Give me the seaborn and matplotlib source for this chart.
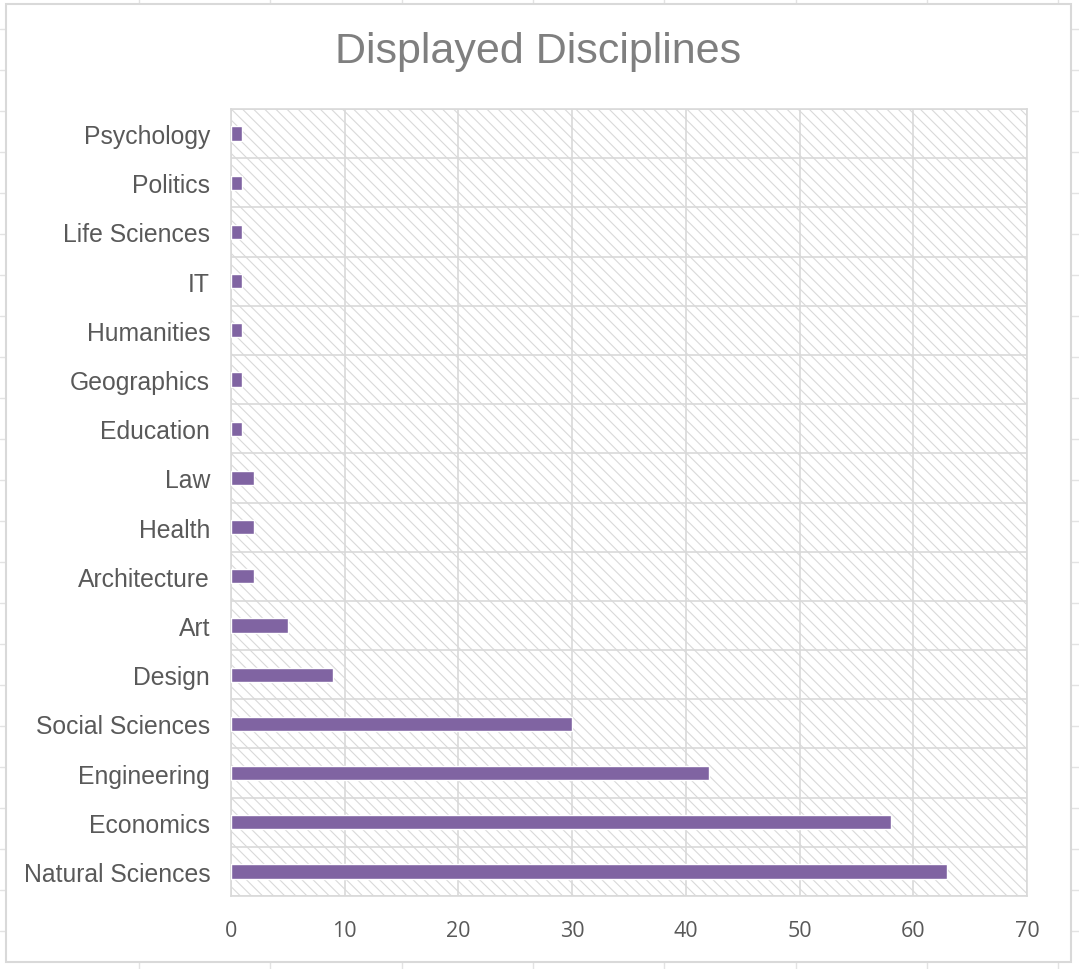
import matplotlib
matplotlib.use("Agg")
import matplotlib.pyplot as plt
import matplotlib.patches as mpatches
from matplotlib.lines import Line2D
import seaborn as sns
import pandas as pd

disciplines = ["Psychology", "Politics", "Life Sciences", "IT", "Humanities",
               "Geographics", "Education", "Law", "Health", "Architecture",
               "Art", "Design", "Social Sciences", "Engineering", "Economics",
               "Natural Sciences"]
counts = [1, 1, 1, 1, 1, 1, 1, 2, 2, 2, 5, 9, 30, 42, 58, 63]
x_ticks = [0, 10, 20, 30, 40, 50, 60, 70]

df = pd.DataFrame({"Discipline": disciplines, "Count": counts})

sns.set_style("white")
plt.rcParams["font.family"] = ["Liberation Sans", "DejaVu Sans"]
plt.rcParams["hatch.color"] = "#d9d9d9"
plt.rcParams["hatch.linewidth"] = 0.8

grid_col = "#d9d9d9"
text_col = "#595959"

fig = plt.figure(figsize=(10.79, 9.70), dpi=100)

# spreadsheet cell lines behind the chart
for yy in range(0, 980, 41):
    fig.add_artist(Line2D([0, 1], [1 - (30 + yy) / 970] * 2, color="#e3e3e3", lw=1, zorder=0))
for xx in [139, 270, 402, 533, 664, 796, 927, 1058]:
    fig.add_artist(Line2D([xx / 1079] * 2, [0, 1], color="#e3e3e3", lw=1, zorder=0))
fig.add_artist(mpatches.Rectangle((6 / 1079, 7 / 970), 1065 / 1079, 958 / 970,
                                  transform=fig.transFigure, facecolor="white",
                                  edgecolor="#d9d9d9", lw=1.5, zorder=1))

ax = fig.add_axes([231 / 1079, 1 - 897 / 970, 796 / 1079, 787 / 970])
ax.set_zorder(2)
ax.patch.set_alpha(0)

sns.barplot(data=df, x="Count", y="Discipline", orient="h", color="#8064a2",
            width=0.29, saturation=1, ax=ax, zorder=3)

# hatched plot area
ax.add_patch(mpatches.Rectangle((0, 0), 1, 1, transform=ax.transAxes,
                                facecolor="white", edgecolor=grid_col,
                                hatch="\\\\\\", lw=0, zorder=0))

ax.set_xlim(0, 70)
ax.set_ylim(len(disciplines) - 0.5, -0.5)
ax.set_xticks(x_ticks)
ax.set_yticks(range(len(disciplines)))
ax.set_yticklabels(disciplines)
ax.set_yticks([i - 0.5 for i in range(len(disciplines) + 1)], minor=True)

ax.grid(True, axis="x", color=grid_col, lw=1.2, zorder=1)
ax.grid(True, axis="y", which="minor", color=grid_col, lw=1.2, zorder=1)
ax.set_axisbelow(True)

ax.tick_params(axis="y", which="major", length=0, pad=15, labelsize=17.8, labelcolor=text_col)
ax.tick_params(axis="y", which="minor", length=5, color=grid_col, width=1.2)
ax.tick_params(axis="x", length=0, pad=17, labelsize=15.5, labelcolor=text_col)
for lbl in ax.get_xticklabels():
    lbl.set_fontfamily(["Open Sans", "DejaVu Sans"])

for s in ax.spines.values():
    s.set_color(grid_col)
    s.set_linewidth(1.2)

ax.set_xlabel("")
ax.set_ylabel("")

fig.text(538 / 1079, 1 - 52 / 970, "Displayed Disciplines", ha="center", va="center",
         fontsize=31, color="#7f7f7f", zorder=5)

fig.savefig("out.png", dpi=100)
